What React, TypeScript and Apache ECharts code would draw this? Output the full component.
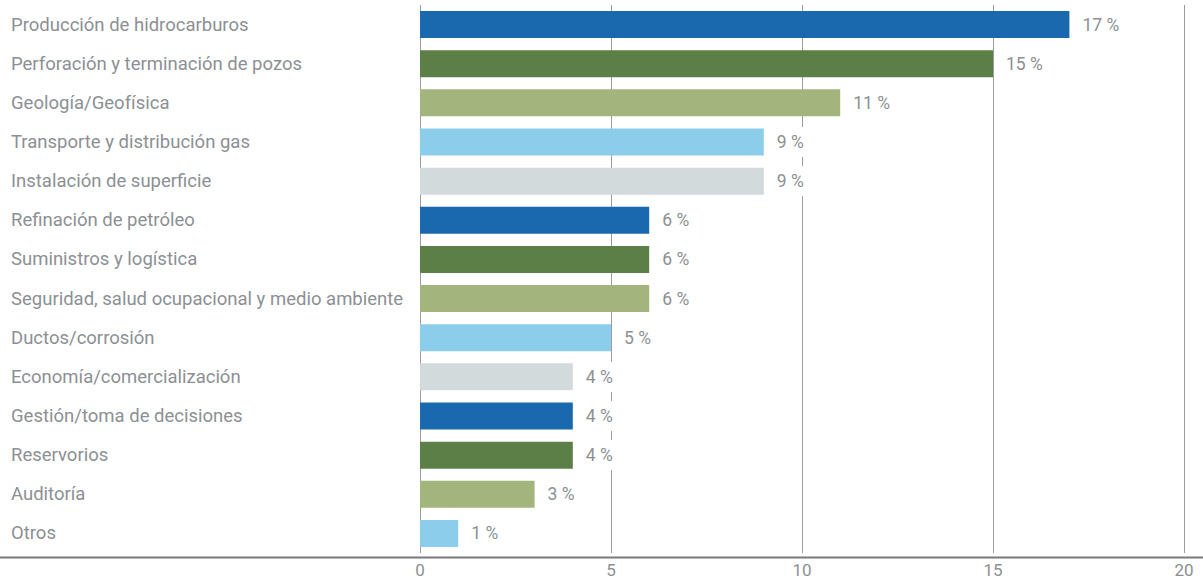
import React, { useEffect, useRef } from "react";
import * as echarts from "echarts";

const categories = [
  "Producción de hidrocarburos",
  "Perforación y terminación de pozos",
  "Geología/Geofísica",
  "Transporte y distribución gas",
  "Instalación de superficie",
  "Refinación de petróleo",
  "Suministros y logística",
  "Seguridad, salud ocupacional y medio ambiente",
  "Ductos/corrosión",
  "Economía/comercialización",
  "Gestión/toma de decisiones",
  "Reservorios",
  "Auditoría",
  "Otros",
];
const values = [17, 15, 11, 9, 9, 6, 6, 6, 5, 4, 4, 4, 3, 1];
const palette = ["#1a68ad", "#5b7f47", "#a3b47c", "#8dcdec", "#d2dadb"];
const xTicks = { min: 0, max: 20, interval: 5 };

const FONT = "Roboto, 'Liberation Sans', sans-serif";
const GRAY = "#8c9094";

export default function App() {
  const ref = useRef<HTMLDivElement>(null);
  useEffect(() => {
    if (!ref.current) return;
    const chart = echarts.init(ref.current, undefined, { renderer: "svg" });
    chart.setOption({
      animation: false,
      textStyle: { fontFamily: FONT },
      grid: { left: 420, right: 19, top: 5, bottom: 22 },
      xAxis: {
        type: "value",
        min: xTicks.min,
        max: xTicks.max,
        interval: xTicks.interval,
        axisLine: { show: false },
        axisTick: { show: false },
        splitLine: { show: true, lineStyle: { color: "#9a9da0", width: 1 } },
        axisLabel: { color: GRAY, fontSize: 17, margin: 8, fontFamily: FONT },
      },
      yAxis: {
        type: "category",
        inverse: true,
        data: categories,
        axisLine: { show: false },
        axisTick: { show: false },
        axisLabel: {
          align: "left",
          margin: 409,
          color: GRAY,
          fontSize: 18.5,
          fontFamily: FONT,
        },
      },
      series: [
        {
          type: "bar",
          data: values.map((v, i) => ({
            value: v,
            itemStyle: { color: palette[i % palette.length] },
          })),
          barWidth: 27,
          label: {
            show: true,
            position: "right",
            distance: 11,
            formatter: "{c} %",
            color: GRAY,
            fontSize: 17.5,
            fontFamily: FONT,
            backgroundColor: "#ffffff",
            padding: [6, 2],
          },
        },
      ],
      graphic: [
        {
          type: "line",
          shape: { x1: 0, y1: 557.5, x2: 1203, y2: 557.5 },
          style: { stroke: "#77797c", lineWidth: 2 },
          z: 10,
        },
      ],
    });
    return () => chart.dispose();
  }, []);
  return <div ref={ref} style={{ width: 1203, height: 578, position: "absolute", left: 0, top: 0 }} />;
}
